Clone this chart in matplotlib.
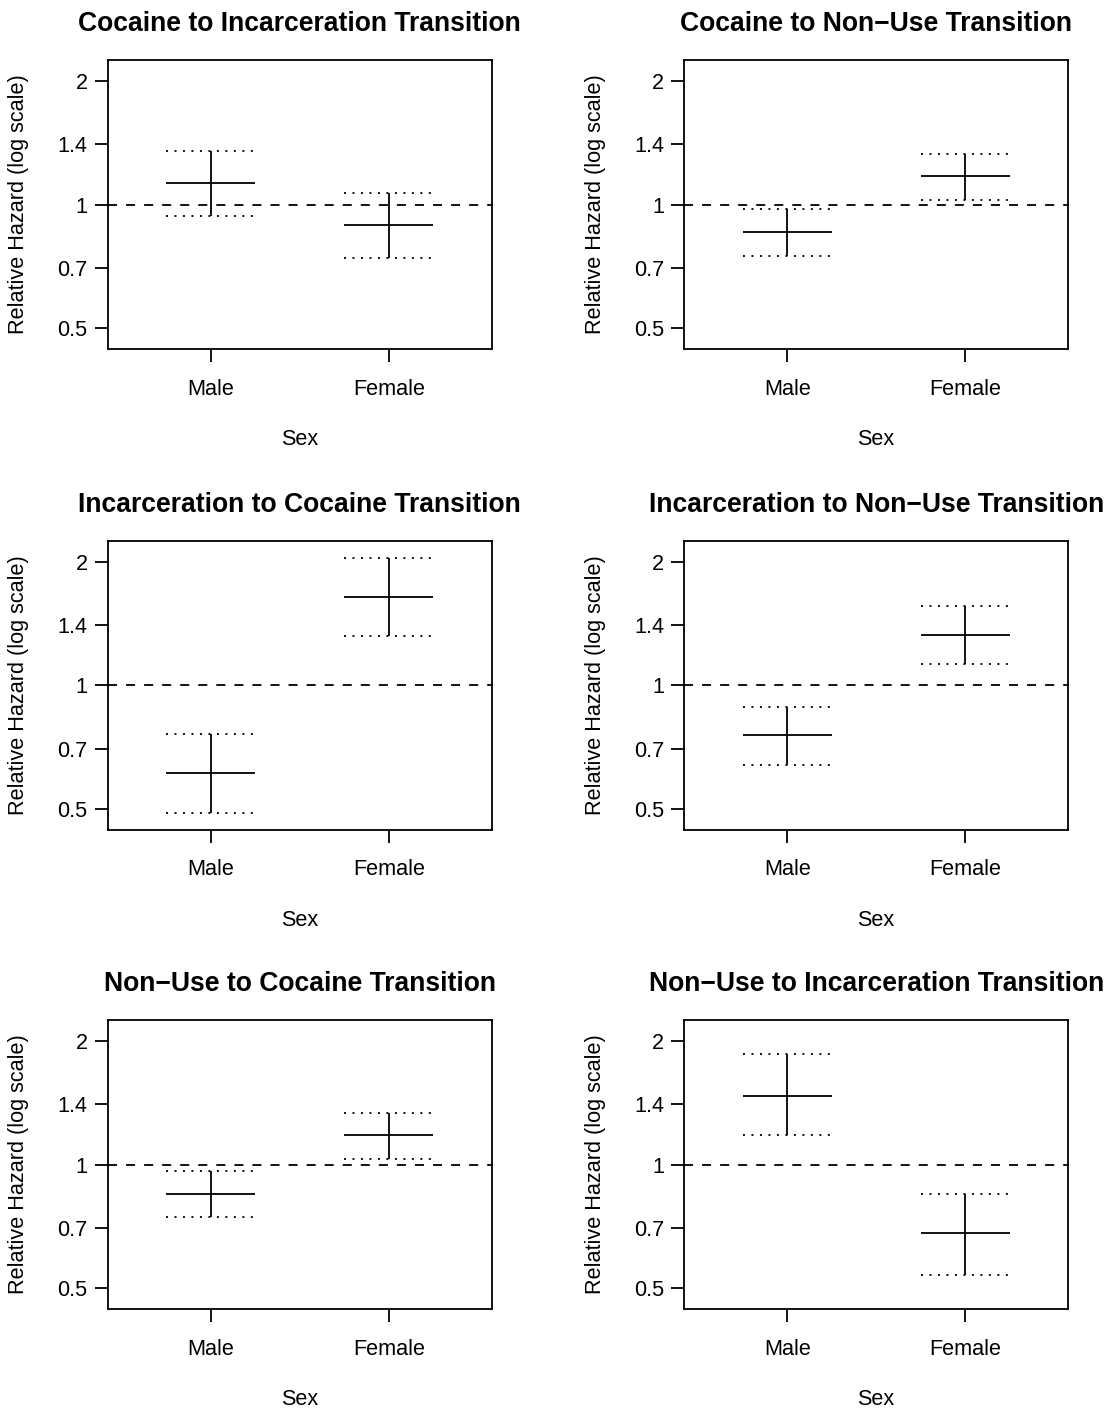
import matplotlib
matplotlib.use("Agg")
import matplotlib.pyplot as plt
from matplotlib.ticker import NullLocator, FixedLocator, FixedFormatter

plt.rcParams['font.family'] = ['Liberation Sans', 'DejaVu Sans']
plt.rcParams['lines.scale_dashes'] = False

# ---------------- data ----------------
titles = [
    "Cocaine to Incarceration Transition",
    "Cocaine to Non\u2212Use Transition",
    "Incarceration to Cocaine Transition",
    "Incarceration to Non\u2212Use Transition",
    "Non\u2212Use to Cocaine Transition",
    "Non\u2212Use to Incarceration Transition",
]
sex_labels = ["Male", "Female"]
sex_pos = [1, 2]

male_est = [1.125, 0.856, 0.611, 0.755, 0.850, 1.471]
male_lo = [0.938, 0.751, 0.488, 0.640, 0.747, 1.177]
male_hi = [1.347, 0.974, 0.761, 0.885, 0.965, 1.859]

female_est = [0.890, 1.170, 1.637, 1.327, 1.177, 0.680]
female_lo = [0.742, 1.027, 1.314, 1.129, 1.034, 0.537]
female_hi = [1.066, 1.329, 2.045, 1.559, 1.337, 0.848]

ytick_vals = [0.5, 0.7, 1, 1.4, 2]
ytick_labels = ["0.5", "0.7", "1", "1.4", "2"]

ylabel = "Relative Hazard (log scale)"
xlabel = "Sex"

# ---------------- layout ----------------
W, H = 1109, 1408
DPI = 130
fig = plt.figure(figsize=(W / DPI, H / DPI), dpi=DPI)

col_left = [107.7, 684.0]
row_top = [60.0, 540.7, 1020.0]
ax_w, ax_h = 384.3, 289.0

LW = 1.0
half = 0.25
dash = (0, (5, 5))
dot = (0, (1.1, 3.6))

for i in range(6):
    r, c = divmod(i, 2)
    ax = fig.add_axes([col_left[c] / W, 1 - (row_top[r] + ax_h) / H, ax_w / W, ax_h / H])
    ax.set_yscale('log')
    ax.set_xlim(0.42, 2.58)
    ax.set_ylim(0.4449, 2.2479)

    ax.axhline(1, color='black', lw=LW, ls=dash)

    groups = [
        (sex_pos[0], male_est[i], male_lo[i], male_hi[i]),
        (sex_pos[1], female_est[i], female_lo[i], female_hi[i]),
    ]
    for x, est, lo, hi in groups:
        ax.plot([x - half, x + half], [est, est], color='black', lw=LW, solid_capstyle='butt')
        ax.plot([x, x], [lo, hi], color='black', lw=LW, solid_capstyle='butt')
        ax.plot([x - half, x + half], [lo, lo], color='black', lw=LW, ls=dot)
        ax.plot([x - half, x + half], [hi, hi], color='black', lw=LW, ls=dot)

    ax.yaxis.set_major_locator(FixedLocator(ytick_vals))
    ax.yaxis.set_major_formatter(FixedFormatter(ytick_labels))
    ax.yaxis.set_minor_locator(NullLocator())
    ax.set_xticks(sex_pos)
    ax.set_xticklabels(sex_labels)

    ax.tick_params(direction='out', length=7.2, width=LW, labelsize=12, color='black')
    ax.tick_params(axis='x', pad=9.2)
    ax.tick_params(axis='y', pad=3.9)
    for s in ax.spines.values():
        s.set_linewidth(LW)

    ax.set_title(titles[i], fontsize=14.7, fontweight='bold', pad=15.9)

    ax.set_xlabel(xlabel, fontsize=12)
    ax.xaxis.set_label_coords(0.5, -(445.3 - 349) / 289)
    ax.xaxis.label.set_va('baseline')

    ax.set_ylabel(ylabel, fontsize=12)
    ax.yaxis.set_label_coords(-(107.7 - 19) / 384.3, 0.5)
    ax.yaxis.label.set_va('center')

fig.savefig("out.png", dpi=DPI)
